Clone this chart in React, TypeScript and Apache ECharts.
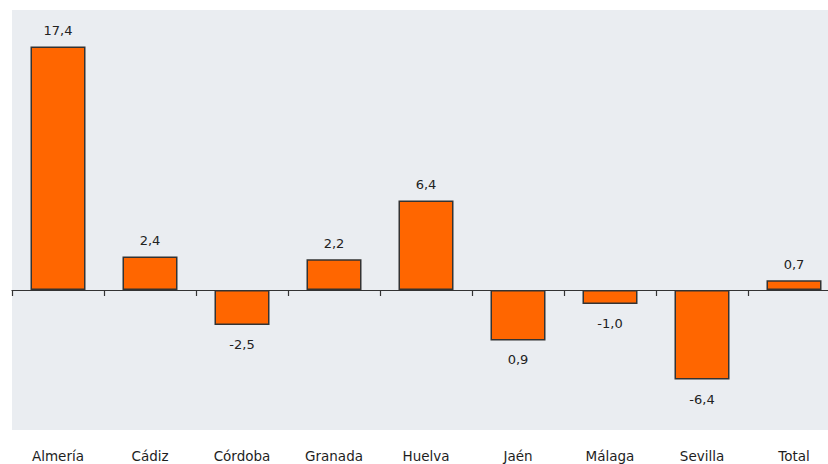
import React, { useEffect, useRef } from "react";
import * as echarts from "echarts";

const categories = ["Almería", "Cádiz", "Córdoba", "Granada", "Huelva", "Jaén", "Málaga", "Sevilla", "Total"];
const values = [17.4, 2.4, -2.5, 2.2, 6.4, -3.6, -1.0, -6.4, 0.7];
const valueLabels = ["17,4", "2,4", "-2,5", "2,2", "6,4", "0,9", "-1,0", "-6,4", "0,7"];

export default function App() {
  const ref = useRef<HTMLDivElement>(null);
  useEffect(() => {
    document.body.style.margin = "0";
    const chart = echarts.init(ref.current!, null, { renderer: "svg" });
    const font = "'DejaVu Sans', Verdana, sans-serif";
    chart.setOption({
      animation: false,
      grid: {
        left: 12,
        top: 10,
        right: 0,
        height: 420,
        show: true,
        backgroundColor: "#EAEDF1",
        borderWidth: 0,
      },
      xAxis: [
        {
          type: "category",
          data: categories,
          position: "bottom",
          axisLine: { onZero: true, lineStyle: { color: "#333", width: 1.2 } },
          axisTick: { show: true, length: 6, lineStyle: { color: "#333", width: 1.2 } },
          axisLabel: { show: false },
          splitLine: { show: false },
        },
        {
          type: "category",
          data: categories,
          position: "bottom",
          gridIndex: 0,
          axisLine: { show: false, onZero: false },
          axisTick: { show: false },
          axisLabel: { show: true, margin: 19, color: "#1e1e1e", fontSize: 13.5, fontFamily: font, interval: 0 },
          splitLine: { show: false },
        },
      ],
      yAxis: {
        type: "value",
        min: -10,
        max: 20,
        show: false,
        splitLine: { show: false },
      },
      series: [
        {
          type: "bar",
          xAxisIndex: 0,
          barWidth: 55,
          data: values.map((v, i) => ({
            value: v,
            label: {
              show: true,
              position: v >= 0 ? "top" : "bottom",
              distance: v >= 0 ? 9 : 13,
              formatter: valueLabels[i],
              color: "#222",
              fontSize: 13,
              fontFamily: font,
            },
          })),
          itemStyle: { color: "#FF6600", borderColor: "#333", borderWidth: 1.5 },
        },
      ],
    });
    return () => chart.dispose();
  }, []);
  return (
    <div style={{ width: 828, height: 464, position: "absolute", left: 0, top: 0, overflow: "hidden" }}>
      <div ref={ref} style={{ width: 840, height: 464 }} />
    </div>
  );
}
